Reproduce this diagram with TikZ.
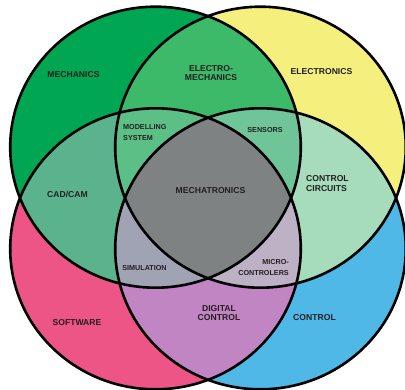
\documentclass[tikz,border=0pt]{standalone}
\usepackage{fontspec}
\setmainfont{Liberation Sans}
\definecolor{cM}{HTML}{00A651}
\definecolor{cE}{HTML}{F5EF7E}
\definecolor{cS}{HTML}{EC5585}
\definecolor{cC}{HTML}{4FB8E6}
\definecolor{cME}{HTML}{3DB96A}
\definecolor{cMS}{HTML}{5AB38C}
\definecolor{cEC}{HTML}{A6DCBC}
\definecolor{cSC}{HTML}{C285C3}
\definecolor{cMES}{HTML}{5CBF86}
\definecolor{cMEC}{HTML}{6FC598}
\definecolor{cMSC}{HTML}{9FA3B3}
\definecolor{cESC}{HTML}{BDB1C6}
\definecolor{cALL}{HTML}{7E8282}
\definecolor{txt}{HTML}{231F20}
\begin{document}
\begin{tikzpicture}[x=1pt,y=1pt,
  big/.style={font=\fontsize{8.6}{9.6}\selectfont\bfseries, text=txt, inner sep=0pt, align=center},
  small/.style={font=\fontsize{7.2}{11}\selectfont\bfseries, text=txt, inner sep=0pt},
  outline/.style={draw=black, line width=2.6pt}]
\clip (0,0) rectangle (405,389);
\fill[white] (0,0) rectangle (405,389);
\def\RX{145.3pt}\def\RY{140.5pt}
\def\pG{(155.5,241.8) ellipse [x radius=\RX, y radius=\RY]}
\def\pY{(260.5,241.8) ellipse [x radius=\RX, y radius=\RY]}
\def\pP{(155.5,140.2) ellipse [x radius=\RX, y radius=\RY]}
\def\pB{(260.5,140.2) ellipse [x radius=\RX, y radius=\RY]}
% singles
\fill[cM] \pG; \fill[cE] \pY; \fill[cS] \pP; \fill[cC] \pB;
% pairs
\begin{scope}\clip \pG; \fill[cME] \pY; \end{scope}
\begin{scope}\clip \pG; \fill[cMS] \pP; \end{scope}
\begin{scope}\clip \pY; \fill[cEC] \pB; \end{scope}
\begin{scope}\clip \pP; \fill[cSC] \pB; \end{scope}
% triples
\begin{scope}\clip \pG; \clip \pY; \fill[cMES] \pP; \end{scope}
\begin{scope}\clip \pG; \clip \pY; \fill[cMEC] \pB; \end{scope}
\begin{scope}\clip \pG; \clip \pP; \fill[cMSC] \pB; \end{scope}
\begin{scope}\clip \pY; \clip \pP; \fill[cESC] \pB; \end{scope}
% all
\begin{scope}\clip \pG; \clip \pY; \clip \pP; \fill[cALL] \pB; \end{scope}
% outlines
\draw[outline] \pG; \draw[outline] \pY; \draw[outline] \pP; \draw[outline] \pB;
% labels
\node[big] (mech) at (73.5,314) {MECHANICS};
\node[big] (elmech) at (211,316) {ELECTRO-\\MECHANICS};
\node[big] (elec) at (321.5,317) {ELECTRONICS};
\node[small, align=left, anchor=west] (model) at (123,256) {MODELLING\\SYSTEM};
\node[small] (sens) at (265,259) {SENSORS};
\node[big] (cad) at (67.5,195) {CAD/CAM};
\node[big] (mtr) at (210.5,198) {MECHATRONICS};
\node[big, align=left, anchor=west] (ctrlc) at (306,205.5) {CONTROL\\CIRCUITS};
\node[small] (sim) at (144.5,121) {SIMULATION};
\node[small, align=right, anchor=east] (micro) at (289,121) {MICRO-\\CONTROLERS};
\node[big] (dig) at (219,76) {DIGITAL\\CONTROL};
\node[big] (soft) at (77,66) {SOFTWARE};
\node[big] (ctrl) at (314.5,71) {CONTROL};
\end{tikzpicture}
\end{document}
